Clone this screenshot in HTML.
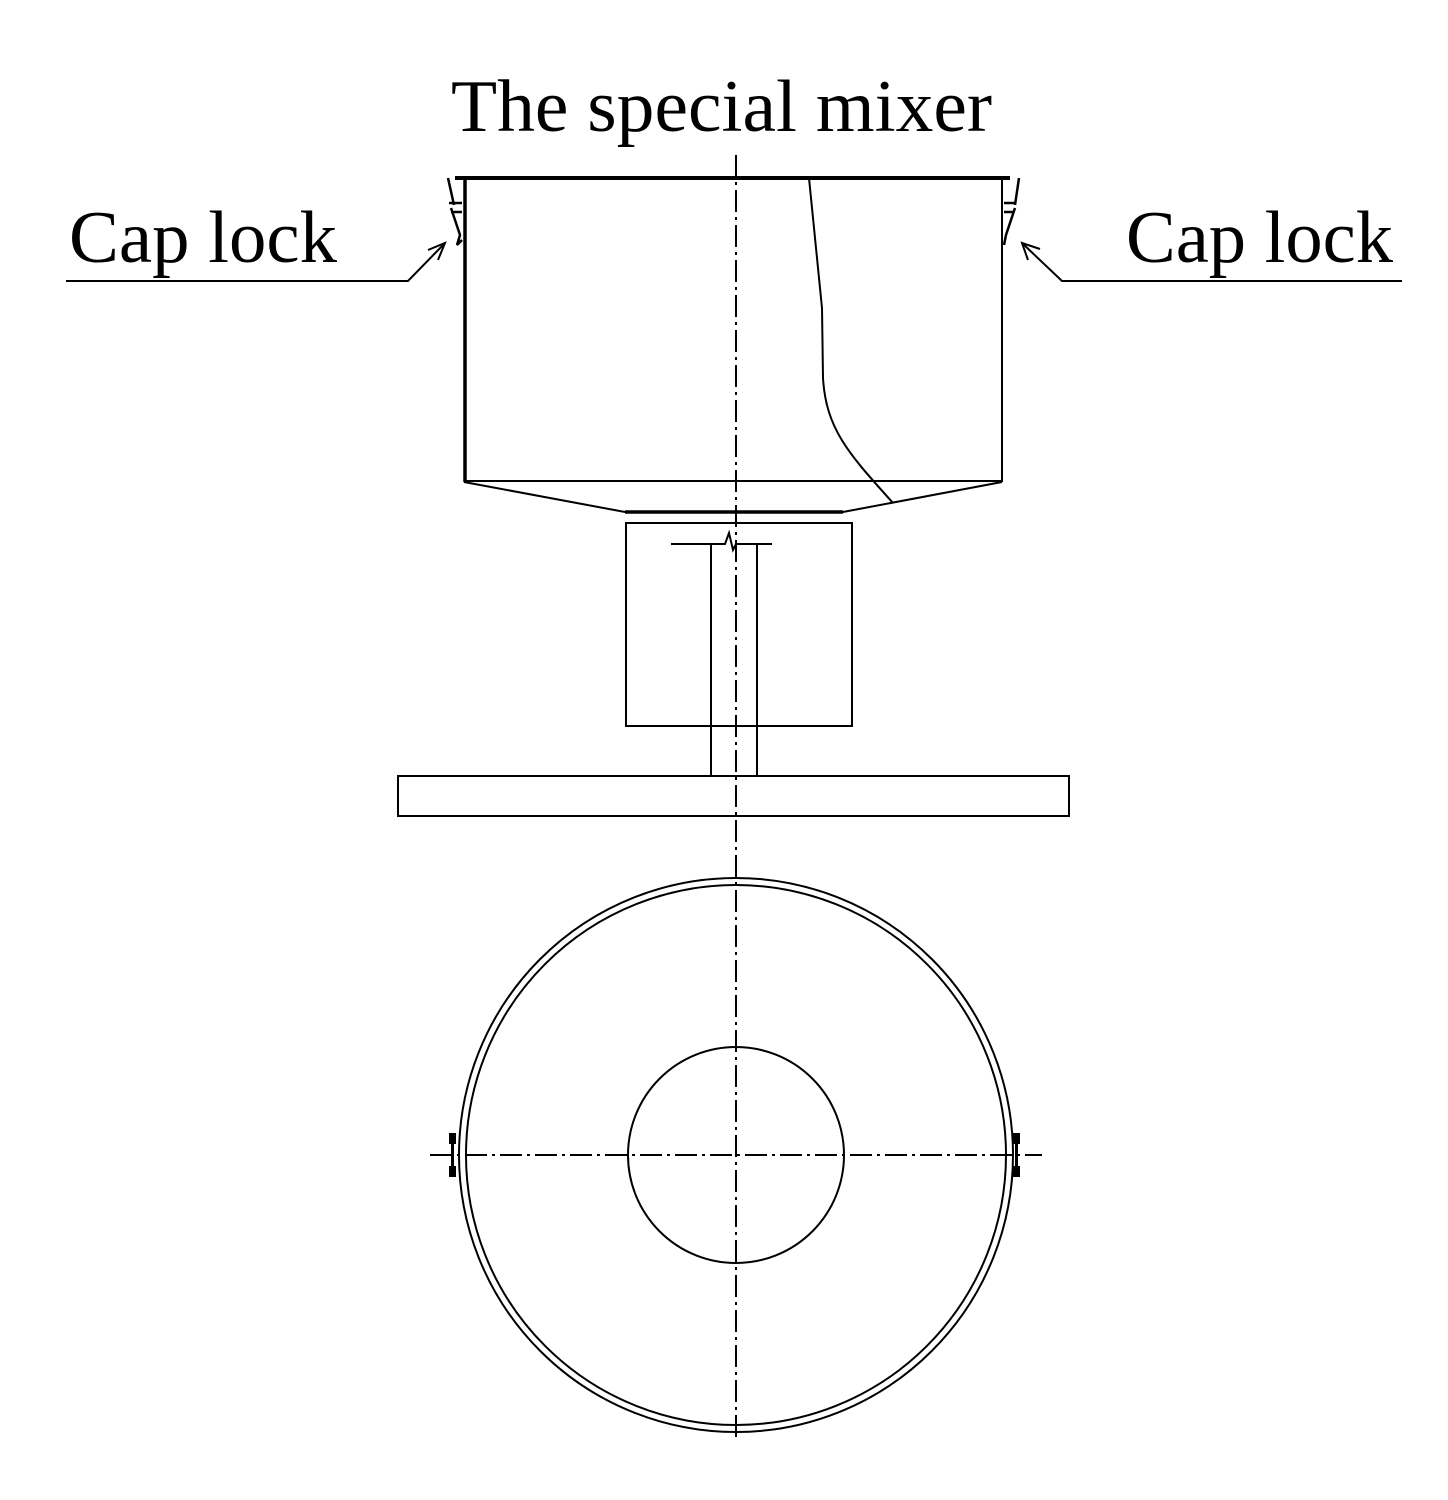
<!DOCTYPE html>
<html><head><style>html,body{margin:0;padding:0;background:#fff}svg{display:block}</style></head>
<body>
<svg width="1448" height="1500" viewBox="0 0 1448 1500" xmlns="http://www.w3.org/2000/svg">
<g font-family="Liberation Serif, serif" fill="#000">
<text x="451" y="131" font-size="74" textLength="541" lengthAdjust="spacingAndGlyphs">The special mixer</text>
<text x="69" y="262" font-size="74" textLength="268" lengthAdjust="spacingAndGlyphs">Cap lock</text>
<text x="1126" y="262" font-size="74" textLength="267" lengthAdjust="spacingAndGlyphs">Cap lock</text>
</g>
<g stroke="#000" fill="none">
<!-- centerlines -->
<line x1="736" y1="155" x2="736" y2="1442" stroke-width="2" stroke-dasharray="22,5,3,5"/>
<line x1="430" y1="1155" x2="1042" y2="1155" stroke-width="2" stroke-dasharray="22,5,3,5"/>
<!-- bowl -->
<line x1="455" y1="178" x2="1010" y2="178" stroke-width="4"/>
<line x1="465" y1="178" x2="465" y2="482" stroke-width="3.5"/>
<line x1="1002" y1="178" x2="1002" y2="482" stroke-width="2"/>
<line x1="464" y1="481" x2="1002" y2="481" stroke-width="2"/>
<polyline points="464,482 625,512 843,512 1002,482" stroke-width="2"/>
<line x1="625" y1="512" x2="843" y2="512" stroke-width="3.5"/>
<path d="M809,178 L822,308 L823,378 C826,430 850,455 893,503" stroke-width="2"/>
<!-- caps locks -->
<path d="M448,178 L454,205 M449,203 L462,203 M451,212 L462,212 M451,208 L460,235 L457,245 L462,240" stroke-width="2.5"/>
<path d="M1019,178 L1015,205 M1004,203 L1016,203 M1004,212 L1013,212 M1015,208 L1006,235 L1004,245" stroke-width="2.5"/>
<!-- leaders -->
<polyline points="66,281 408,281 445,243" stroke-width="2"/>
<polyline points="428,250 445,243 438,260" stroke-width="2"/>
<polyline points="1402,281 1062,281 1022,243" stroke-width="2"/>
<polyline points="1040,249 1022,243 1028,260" stroke-width="2"/>
<!-- box, shaft -->
<rect x="626" y="523" width="226" height="203" stroke-width="2"/>
<polyline points="671,544 725,544 729,533 733,550 736,544 772,544" stroke-width="2"/>
<line x1="711" y1="544" x2="711" y2="776" stroke-width="2"/>
<line x1="757" y1="544" x2="757" y2="776" stroke-width="2"/>
<rect x="398" y="776" width="671" height="40" stroke-width="2"/>
<!-- plan view -->
<circle cx="736" cy="1155" r="277" stroke-width="2"/>
<circle cx="736" cy="1155" r="270" stroke-width="2"/>
<circle cx="736" cy="1155" r="108" stroke-width="2"/>
</g>
<g fill="#000">
<rect x="449" y="1133" width="7" height="11"/><rect x="449" y="1166" width="7" height="11"/>
<rect x="451" y="1144" width="3" height="22"/>
<rect x="1013" y="1133" width="7" height="11"/><rect x="1013" y="1166" width="7" height="11"/>
<rect x="1015" y="1144" width="3" height="22"/>
</g>
</svg>
</body></html>
